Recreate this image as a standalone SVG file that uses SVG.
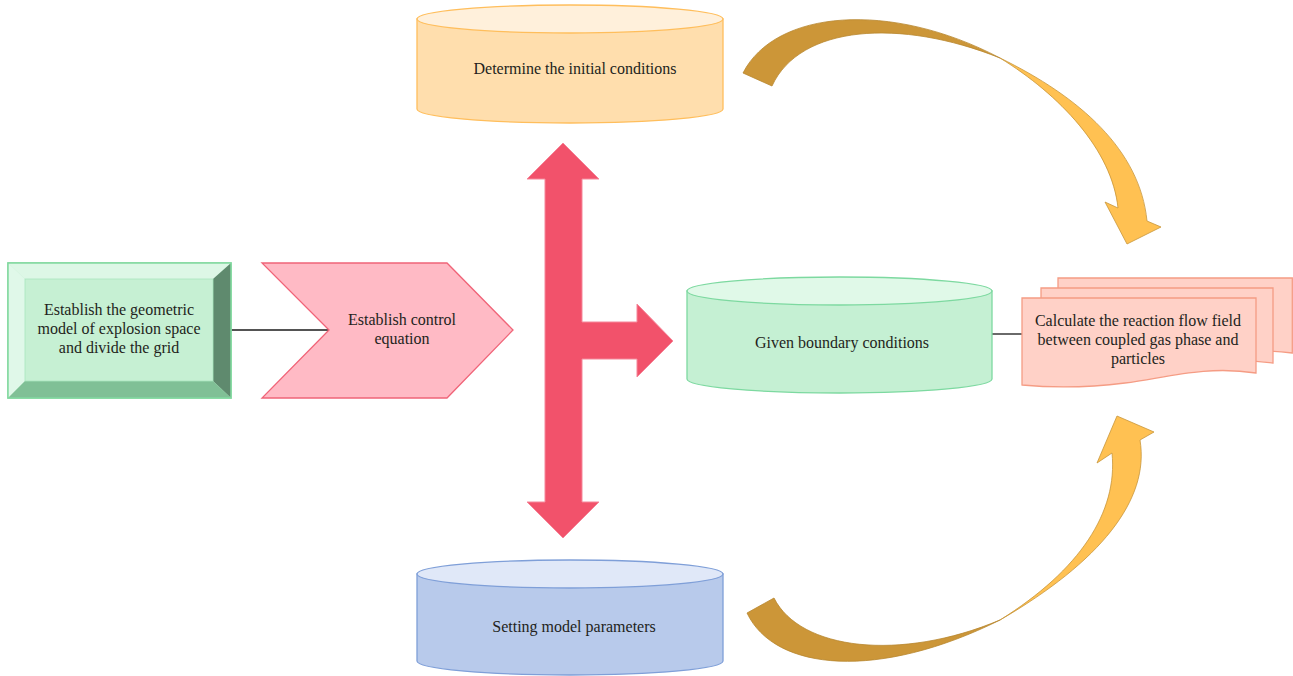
<svg xmlns="http://www.w3.org/2000/svg" width="1293" height="676" viewBox="0 0 1293 676">
<style>
text{font-family:"Liberation Serif","Times New Roman",serif;font-size:16px;fill:#231F20;text-anchor:middle}
.conn{stroke:#1a1a1a;stroke-width:1.3;fill:none}
.dark{fill:#CC9638;stroke:#B8862E;stroke-width:0.8}
.light{fill:#FFC152;stroke:#C8963A;stroke-width:0.8}
.doc{fill:#FFD1C7;stroke:#F59C84;stroke-width:1.3}
</style>
<rect width="1293" height="676" fill="#fff"/>
<g id="connectors">
<line class="conn" x1="231" y1="330" x2="330" y2="330"/>
<line class="conn" x1="992" y1="334" x2="1022" y2="334"/>
<g id="curve-top">
<path class="dark" d="M743,73 C775,10 890,0 1000,58 C900,18 800,25 772,86 Z"/>
<path class="light" d="M1000,58 C1080,97 1140,150 1147,221 L1161,227 L1127,244 L1105,202 L1118,208 C1112,150 1060,95 1000,58 Z"/>
</g>
<g id="curve-bottom">
<path class="dark" d="M747,613 C775,672 880,680 1000,620 C900,662 800,650 774,598 Z"/>
<path class="light" d="M1000,620 C1100,562 1150,500 1140,440 L1154,432 L1117,416 L1097,463 L1112,453 C1118,512 1080,570 1000,620 Z"/>
</g>
<g id="red-arrow">
<path d="M563,143 L599,179 L582,179 L582,322 L637,322 L637,304 L673,341 L637,377 L637,359 L582,359 L582,502 L599,502 L563,538 L527,502 L545,502 L545,179 L527,179 Z" fill="#F2526B" stroke="#F5879A" stroke-width="1"/>
</g>
</g>
<g id="node-geometric">
<rect x="8" y="263" width="223" height="135" fill="#C6F0D3" stroke="#82D9A0" stroke-width="1.5"/>
<polygon points="8,263 231,263 213,279 25,279" fill="#DDF7E6"/>
<polygon points="8,263 25,279 25,381 8,398" fill="#E0F8E9"/>
<polygon points="231,263 231,398 213,381 213,279" fill="#5F8A6E"/>
<polygon points="8,398 25,381 213,381 231,398" fill="#80C096"/>
<rect x="8" y="263" width="223" height="135" fill="none" stroke="#82D9A0" stroke-width="1.5"/>
<rect x="25" y="279" width="188" height="102" fill="#C6F0D3" stroke="#A8E6BE" stroke-width="0.8"/>
<text x="119" y="315">Establish the geometric</text>
<text x="119" y="334">model of explosion space</text>
<text x="119" y="353">and divide the grid</text>
</g>
<g id="node-control">
<polygon points="262,263 447,263 513,330 447,398 262,398 329,330" fill="#FFBAC5" stroke="#F06478" stroke-width="1.3"/>
<text x="402" y="325">Establish control</text>
<text x="402" y="344">equation</text>
</g>
<g id="node-initial">
<path d="M417,19 V109 A153,14 0 0 0 723,109 V19 Z" fill="#FFDEAD" stroke="#FFBE5C" stroke-width="1.3"/>
<ellipse cx="570" cy="19" rx="153" ry="14" fill="#FFF0DB" stroke="#FFBE5C" stroke-width="1.3"/>
<text x="575" y="74">Determine the initial conditions</text>
</g>
<g id="node-boundary">
<path d="M687,291 V379 A152.5,14 0 0 0 992,379 V291 Z" fill="#C5F0D3" stroke="#7DD9A0" stroke-width="1.3"/>
<ellipse cx="839.5" cy="291" rx="152.5" ry="14" fill="#E0F9E8" stroke="#7DD9A0" stroke-width="1.3"/>
<text x="842" y="348">Given boundary conditions</text>
</g>
<g id="node-parameters">
<path d="M417,574 V661 A153,14 0 0 0 723,661 V574 Z" fill="#B8CAEB" stroke="#7F9FD8" stroke-width="1.3"/>
<ellipse cx="570" cy="574" rx="153" ry="14" fill="#E0E8F8" stroke="#7F9FD8" stroke-width="1.3"/>
<text x="574" y="632">Setting model parameters</text>
</g>
<g id="node-calculate">
<path class="doc" d="M1058,278 H1292.3 V353 C1240,346 1200,358 1160,362 C1120,366 1090,365 1058,362 Z"/>
<path class="doc" d="M1041,288 H1273 V363 C1220,356 1180,368 1140,372 C1100,376 1070,375 1041,372 Z"/>
<path class="doc" d="M1022,298 H1256 V373 C1205,365 1165,378 1125,383 C1085,388 1055,388 1022,385 Z"/>
<text x="1138" y="326">Calculate the reaction flow field</text>
<text x="1138" y="345">between coupled gas phase and</text>
<text x="1138" y="364">particles</text>
</g>
</svg>
